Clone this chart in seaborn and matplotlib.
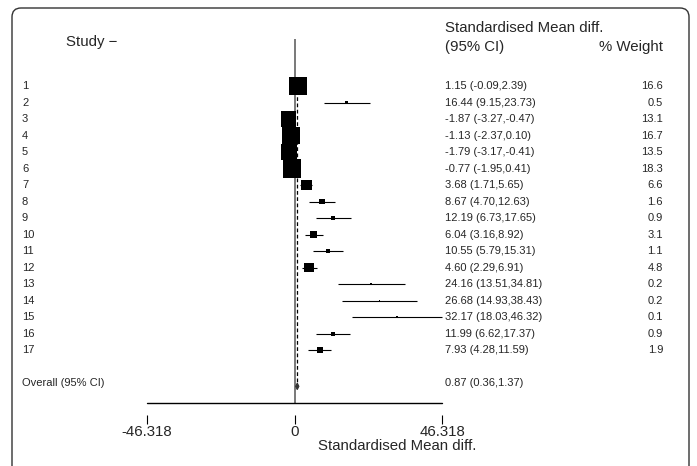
import numpy as np
import pandas as pd
import matplotlib.pyplot as plt
import seaborn as sns
from matplotlib.patches import FancyBboxPatch
from matplotlib.transforms import blended_transform_factory

# =========================
# DATA
# =========================

studies = [str(i) for i in range(1, 18)]

smd = [1.15, 16.44, -1.87, -1.13, -1.79, -0.77, 3.68, 8.67, 12.19,
       6.04, 10.55, 4.60, 24.16, 26.68, 32.17, 11.99, 7.93]

ci_low = [-0.09, 9.15, -3.27, -2.37, -3.17, -1.95, 1.71, 4.70, 6.73,
          3.16, 5.79, 2.29, 13.51, 14.93, 18.03, 6.62, 4.28]

ci_high = [2.39, 23.73, -0.47, 0.10, -0.41, 0.41, 5.65, 12.63, 17.65,
           8.92, 15.31, 6.91, 34.81, 38.43, 46.32, 17.37, 11.59]

weights = [16.6, 0.5, 13.1, 16.7, 13.5, 18.3, 6.6, 1.6, 0.9,
           3.1, 1.1, 4.8, 0.2, 0.2, 0.1, 0.9, 1.9]

overall = [0.87, 0.36, 1.37]

x_ticks = [-46.318, 0, 46.318]
x_tick_labels = ["-46.318", "0", "46.318"]

df = pd.DataFrame({
    "study": studies,
    "smd": smd,
    "low": ci_low,
    "high": ci_high,
    "weight": weights,
})
df["row"] = np.arange(1, len(df) + 1)
overall_row = len(df) + 2

# =========================
# FIGURE SETUP
# =========================

sns.set_theme(style="white")
plt.rcParams["font.family"] = ["Liberation Sans", "DejaVu Sans"]

W, H = 697, 466
fig = plt.figure(figsize=(W / 100, H / 100), dpi=100)

# plot region in pixels: x 147..442, y 39..403
ax = fig.add_axes([147 / W, (H - 403) / H, 295 / W, 364 / H])
ax.set_xlim(x_ticks[0], x_ticks[-1])
ax.set_ylim(20.21, -1.85)

# rounded frame around the whole graph
frame = FancyBboxPatch((12, -20), 677, 478, boxstyle="round,pad=0,rounding_size=9",
                       transform=None, fill=False, edgecolor="#333333", linewidth=1.0)
fig.patches.append(frame)

# =========================
# FOREST PLOT
# =========================

ax.axvline(0, color="#555555", linewidth=1.1, zorder=1)

ax.vlines(overall[0], 0.5, overall_row, color="black", linewidth=0.9,
          linestyles=(0, (3, 2)), zorder=1)

ax.hlines(df["row"], df["low"], df["high"], color="black", linewidth=0.8,
          zorder=2, clip_on=False)

sns.scatterplot(data=df, x="smd", y="row", size="weight", sizes=(0, 172),
                size_norm=(0, 18.3), marker="s", color="black", linewidth=0,
                legend=False, ax=ax, zorder=3)

# overall diamond
ax.fill([overall[1], overall[0], overall[2], overall[0]],
        [overall_row + 0.2, overall_row, overall_row + 0.2, overall_row + 0.4],
        facecolor="#333333", edgecolor="#333333", linewidth=0.8, zorder=3)

# =========================
# AXES STYLE
# =========================

for side in ["left", "right", "top", "bottom"]:
    ax.spines[side].set_visible(False)
ax.axhline(ax.get_ylim()[0], color="black", linewidth=1.0, clip_on=False)
ax.spines["bottom"].set_position(("outward", 8.6))

ax.set_yticks([])
ax.set_xticks(x_ticks)
ax.set_xticklabels(x_tick_labels, fontsize=10.8)
ax.tick_params(axis="x", bottom=True, length=6.5, width=0.8, color="black",
               direction="out", pad=0.5)
ax.set_xlabel("Standardised Mean diff.", fontsize=10.8)
ax.xaxis.set_label_coords((397 - 147) / 295, -(439 - 403) / 364)
ax.set_ylabel("")

# =========================
# TEXT COLUMNS
# =========================

tr = blended_transform_factory(fig.transFigure, ax.transData)

for _, r in df.iterrows():
    ax.text(22 / W, r["row"], r["study"], transform=tr, fontsize=8,
            va="center", ha="left")
    ax.text(445 / W, r["row"], f"{r['smd']:.2f} ({r['low']:.2f},{r['high']:.2f})",
            transform=tr, fontsize=8, va="center", ha="left")
    ax.text(663 / W, r["row"], f"{r['weight']:.1f}", transform=tr, fontsize=8,
            va="center", ha="right")

ax.text(22 / W, overall_row, "Overall (95% CI)", transform=tr, fontsize=8,
        va="center", ha="left")
ax.text(445 / W, overall_row, f"{overall[0]:.2f} ({overall[1]:.2f},{overall[2]:.2f})",
        transform=tr, fontsize=8, va="center", ha="left")

# headers
ax.text(66 / W, -1.67, "Study \u2212", transform=tr, fontsize=10.8,
        va="center", ha="left", clip_on=False)
ax.text(445 / W, -2.52, "Standardised Mean diff.", transform=tr, fontsize=10.8,
        va="center", ha="left", clip_on=False)
ax.text(445 / W, -1.36, "(95% CI)", transform=tr, fontsize=10.8,
        va="center", ha="left", clip_on=False)
ax.text(663 / W, -1.36, "% Weight", transform=tr, fontsize=10.8,
        va="center", ha="right", clip_on=False)

fig.savefig("out.png", dpi=100, facecolor="white")
